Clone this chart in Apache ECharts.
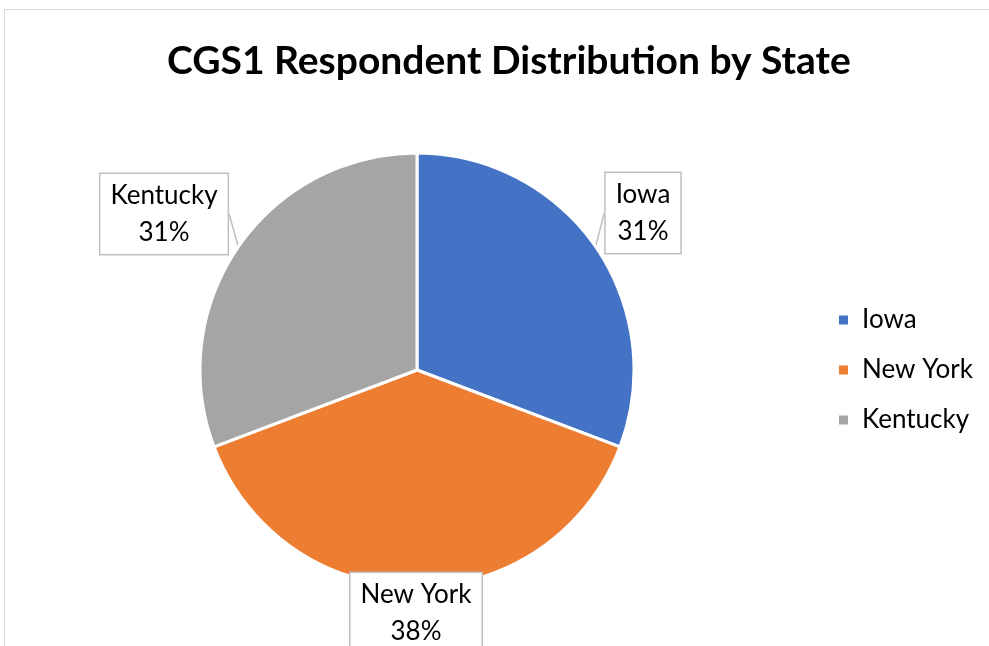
<!DOCTYPE html>
<html>
<head>
<meta charset="utf-8">
<script src="https://cdn.jsdelivr.net/npm/echarts@6/dist/echarts.min.js"></script>
<style>
  html, body { margin: 0; padding: 0; background: #fff; }
  #chart { width: 989px; height: 646px; }
</style>
</head>
<body>
<div id="chart"></div>
<script>
// Respondent counts per state
const states = ['Iowa', 'New York', 'Kentucky'];
const respondents = [4, 5, 4];
const sliceColors = ['#4472C4', '#ED7D31', '#A5A5A5'];

const FONT = 'Lato, "Open Sans", sans-serif';

// Callout anchor points (label centres) for each slice
const calloutPos = [
  { x: 643, y: 213 },
  { x: 416, y: 613 },
  { x: 164, y: 214 }
];

const total = respondents.reduce((a, b) => a + b, 0);

const chart = echarts.init(document.getElementById('chart'));
chart.setOption({
  backgroundColor: '#fff',
  animation: false,
  title: {
    text: 'CGS1 Respondent Distribution by State',
    left: 162,
    top: 37,
    textStyle: { fontFamily: FONT, fontWeight: 'bold', fontSize: 39, color: '#000' }
  },
  legend: {
    orient: 'vertical',
    left: 832,
    top: 302,
    itemWidth: 11,
    itemHeight: 11,
    itemGap: 24,
    icon: 'rect',
    textStyle: { fontFamily: FONT, fontSize: 26, lineHeight: 26, color: '#000', padding: [0, 0, 0, 8] },
    data: states
  },
  graphic: [{
    type: 'rect',
    shape: { x: 4.5, y: 9.5, width: 1100, height: 800 },
    style: { fill: 'none', stroke: '#d9d9d9', lineWidth: 1 },
    silent: true,
    z: -1
  }],
  series: [{
    type: 'pie',
    center: [417, 370],
    radius: [0, 217],
    startAngle: 90,
    clockwise: true,
    itemStyle: { borderColor: '#fff', borderWidth: 3 },
    data: states.map((s, i) => ({
      name: s,
      value: respondents[i],
      itemStyle: { color: sliceColors[i] }
    })),
    label: {
      show: true,
      position: 'outside',
      formatter: p => p.name + '\n' + Math.round(p.value / total * 100) + '%',
      fontFamily: FONT,
      fontSize: 26,
      lineHeight: 37,
      color: '#000',
      align: 'center',
      backgroundColor: '#fff',
      borderColor: '#bfbfbf',
      borderWidth: 1.5,
      padding: [3, 10, 3, 10]
    },
    labelLine: {
      show: true,
      length: 8,
      length2: 0,
      lineStyle: { color: '#bfbfbf', width: 1.5 }
    },
    labelLayout: params => ({
      x: calloutPos[params.dataIndex].x,
      y: calloutPos[params.dataIndex].y,
      align: 'center',
      verticalAlign: 'middle'
    })
  }]
});
</script>
</body>
</html>
